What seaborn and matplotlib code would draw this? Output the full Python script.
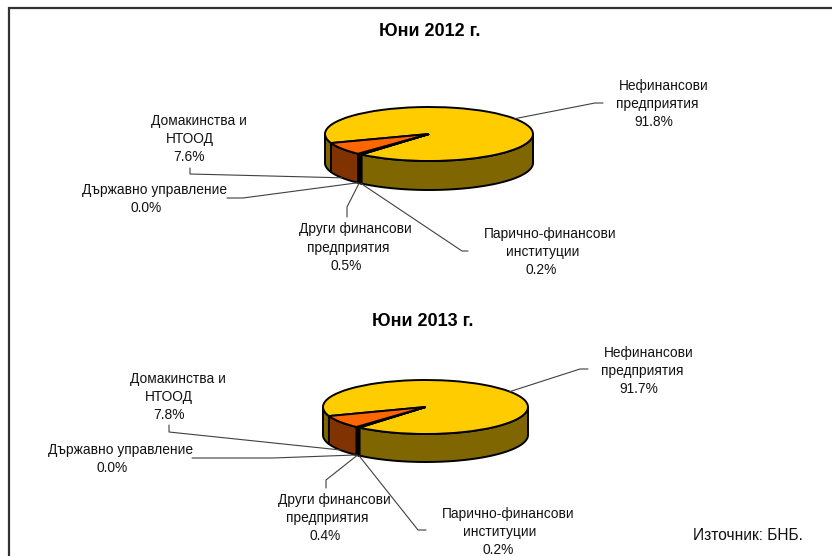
import numpy as np
import matplotlib
matplotlib.use("Agg")
import matplotlib.pyplot as plt
from matplotlib.colors import to_rgb
import seaborn as sns

W, H = 832, 556

# data, clockwise from the first slice
categories = ["Нефинансови\nпредприятия", "Парично-финансови\nинституции",
              "Други финансови\nпредприятия", "Държавно управление", "Домакинства и\nНТООД"]
values_2012 = [91.8, 0.2, 0.5, 0.0, 7.6]
values_2013 = [91.7, 0.2, 0.4, 0.0, 7.8]
titles = ["Юни 2012 г.", "Юни 2013 г."]
source_text = "Източник: БНБ."

# layout, all in pixels of the picture
START_ANGLE = 199.6
SLICE_COLORS = ["#FFCC00", "#000000", "#000000", "#000000", "#FF6600"]
LINE_GRAY = "#404040"
EDGE = 1.4
TEXT_DY = 0.8

layout_2012 = {
    "pie": (429, 134, 104, 27, 29),
    "title": (430, 32),
    "text": [[(664, 85), (657, 103), (654, 121)],
             [(550, 233), (543, 251), (541, 269)],
             [(355, 228), (348, 247), (346, 265)],
             [(155, 189), (146, 207)],
             [(198.5, 120), (190, 138), (189, 156)]],
    "elbow": [[(603, 103), (595, 103)],
              [(468, 251), (462, 251)],
              [(347, 217), (347, 207)],
              [(227, 198), (243, 198)],
              [(190, 168), (190, 174)]],
}
layout_2013 = {
    "pie": (425.5, 407, 102.5, 27, 28),
    "title": (423, 321),
    "text": [[(649, 352), (642, 370), (639, 388)],
             [(508, 513), (500, 531), (498, 549)],
             [(334, 499), (327, 517), (325, 535)],
             [(121, 449), (112, 467)],
             [(178, 378), (169, 396), (169, 414)]],
    "elbow": [[(588, 369), (580, 369)],
              [(426, 530), (418, 530)],
              [(326, 488), (326, 480)],
              [(192, 458), (273, 458)],
              [(169, 425), (169, 432)]],
}

sns.set_theme(style="white")
plt.rcParams["font.family"] = ["Liberation Sans", "DejaVu Sans"]

fig = plt.figure(figsize=(W / 100, H / 100), dpi=100, facecolor="white")

# overlay in pixel coordinates for texts, leader lines and the frame
ov = fig.add_axes([0, 0, 1, 1], zorder=5)
ov.set_xlim(0, W)
ov.set_ylim(H, 0)
ov.axis("off")
ov.plot([8.5, 8.5, W], [H, 7.5, 7.5], color="#333333", lw=1.6, solid_joinstyle="miter")


def draw_pie(values, title, lay):
    cx, cy, rx, ry, depth = lay["pie"]
    ax = fig.add_axes([(cx - rx) / W, 1 - (cy + ry) / H, 2 * rx / W, 2 * ry / H])
    wedges, _ = ax.pie(values, colors=SLICE_COLORS, startangle=START_ANGLE, counterclock=False,
                       radius=1, wedgeprops={"edgecolor": "black", "linewidth": EDGE})
    ax.set_aspect("auto")
    ax.set_xlim(-1, 1)
    ax.set_ylim(-1, 1)
    d = depth / ry

    # side wall: only the front half of the rim shows
    for w, col in zip(wedges, SLICE_COLORS):
        if w.theta2 - w.theta1 <= 0:
            continue
        side = np.array(to_rgb(col)) * 0.5
        for shift in (-360, 0, 360):
            lo = max(w.theta1 + shift, 180)
            hi = min(w.theta2 + shift, 360)
            if hi <= lo:
                continue
            t = np.radians(np.linspace(lo, hi, 80))
            xs = np.r_[np.cos(t), np.cos(t)[::-1]]
            ys = np.r_[np.sin(t), np.sin(t)[::-1] - d]
            ax.fill(xs, ys, facecolor=side, edgecolor="black", lw=EDGE, zorder=0.5, clip_on=False)

    # labels and leader lines
    for i, w in enumerate(wedges):
        name_lines = categories[i].split("\n") + [f"{values[i]:.1f}%"]
        for txt, (x, y) in zip(name_lines, lay["text"][i]):
            ov.text(x, y + TEXT_DY, txt, ha="center", va="center", fontsize=9.9, color="#111111")
        mid = np.radians((w.theta1 + w.theta2) / 2)
        px = cx + rx * np.cos(mid)
        py = cy - ry * np.sin(mid)
        if np.sin(mid) < 0:
            py += depth
        (x0, y0), (x1, y1) = lay["elbow"][i]
        ov.plot([x0, x1, px], [y0, y1, py], color=LINE_GRAY, lw=0.8, zorder=1)

    tx, ty = lay["title"]
    ov.text(tx, ty, title, ha="center", va="center", fontsize=13, fontweight="bold", color="black")


draw_pie(values_2012, titles[0], layout_2012)
draw_pie(values_2013, titles[1], layout_2013)
ov.text(747.5, 535.5, source_text, ha="center", va="center", fontsize=11.2, color="#111111")

fig.savefig("out.png", dpi=100)
